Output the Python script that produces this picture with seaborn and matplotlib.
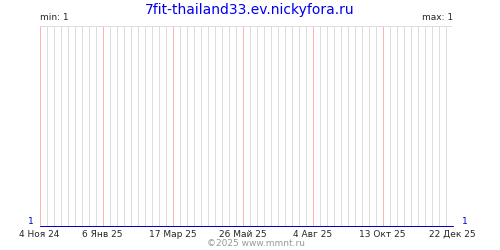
import matplotlib
matplotlib.use("Agg")
import matplotlib.pyplot as plt
import seaborn as sns
import pandas as pd

title = "7fit-thailand33.ev.nickyfora.ru"
dates = ["2024-11-04", "2025-12-22"]
values = [1, 1]
tick_dates = ["2024-11-04", "2025-01-06", "2025-03-17", "2025-05-26",
              "2025-08-04", "2025-10-13", "2025-12-22"]
tick_labels = ["4 Ноя 24", "6 Янв 25", "17 Мар 25", "26 Май 25",
               "4 Авг 25", "13 Окт 25", "22 Дек 25"]
min_label = "min: 1"
max_label = "max: 1"
copyright_text = "©2025 www.mmnt.ru"

sns.set_style("white")
plt.rcParams['font.family'] = ['DejaVu Sans']

df = pd.DataFrame({"date": pd.to_datetime(dates), "value": values})
tick_dt = pd.to_datetime(tick_dates)

fig = plt.figure(figsize=(5, 2.5), dpi=100)
ax = fig.add_axes([39.5/500, 1 - 225.5/250, 413/500, 200/250])

px = 0.72
# weekly gray grid, pink at labelled dates
weeks = pd.date_range(df["date"].min(), df["date"].max(), freq="7D")
gray_weeks = [w for w in weeks if w not in set(tick_dt)]
ax.vlines(gray_weeks, 1, 2, colors="#dddddd", lw=px, zorder=1, snap=True)
ax.vlines(list(tick_dt), 1, 2, colors="#ffb4b4", lw=px, zorder=2, snap=True)
ax.axhline(2, color="#dddddd", lw=px, zorder=2, snap=True)

sns.lineplot(data=df, x="date", y="value", ax=ax, color="#0000cc", lw=px,
             zorder=3, snap=True, clip_on=False)

ax.set_xlim(df["date"].min(), df["date"].max())
ax.set_ylim(1, 2)
ax.set_xticks(tick_dt)
ax.set_xticklabels(tick_labels, fontsize=6.5)
ax.set_yticks([])
ax.set_xlabel("")
ax.set_ylabel("")
ax.tick_params(axis="x", length=0, pad=3)
for s in ax.spines.values():
    s.set_visible(False)

fig.text(0.5, 1 - 10/250, title, ha="center", va="center", color="#0000ee", fontsize=10)
fig.text(40/500, 1 - 18/250, min_label, ha="left", va="center", fontsize=6.5)
fig.text(453/500, 1 - 18/250, max_label, ha="right", va="center", fontsize=6.5)
fig.text(31/500, 1 - 222/250, "1", ha="center", va="center", color="#0000cc", fontsize=6.5)
fig.text(465/500, 1 - 222/250, "1", ha="center", va="center", color="#0000cc", fontsize=6.5)
fig.text(0.512, 1 - 243/250, copyright_text, ha="center", va="center", color="#999999", fontsize=6.5)

fig.savefig("out.png", dpi=100)
